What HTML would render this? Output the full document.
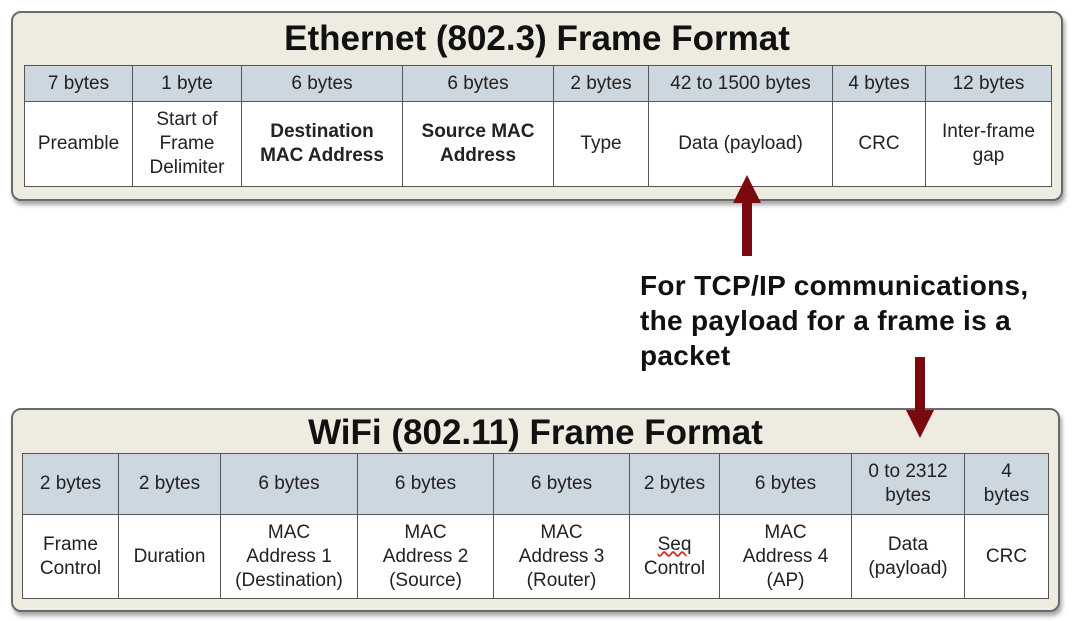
<!DOCTYPE html>
<html><head><meta charset="utf-8"><style>
body{margin:0;width:1077px;height:621px;background:#fff;position:relative;overflow:hidden;font-family:"Liberation Sans",Arial,sans-serif;}
.panel{position:absolute;background:#eeece1;border:2px solid #6a6a6a;border-radius:10px;box-shadow:2px 4px 4px rgba(0,0,0,0.35);}
.title{position:absolute;left:0;right:0;text-align:center;font-weight:bold;font-size:35px;color:#111;}
table{position:absolute;border-collapse:collapse;table-layout:fixed;}
td{border:1px solid #555;text-align:center;vertical-align:middle;font-size:19px;color:#222;line-height:24px;padding:0;}
tr.h td{background:#cdd7df;}
tr.b td{background:#fff;}
.bold{font-weight:bold;}
.note{position:absolute;left:640px;top:268px;font-weight:bold;font-size:28px;letter-spacing:0.3px;line-height:35px;color:#111;white-space:nowrap;}
</style></head><body>
<div class="panel" style="left:11px;top:11px;width:1048px;height:186px;">
<div class="title" style="top:6px;">Ethernet (802.3) Frame Format</div>
</div>
<table style="left:24px;top:65px;width:1027px;height:122px;">
<colgroup><col style="width:108px"><col style="width:109px"><col style="width:161px"><col style="width:151px"><col style="width:95px"><col style="width:184px"><col style="width:93px"><col style="width:126px"></colgroup>
<tr class="h" style="height:36px"><td>7 bytes</td><td>1 byte</td><td>6 bytes</td><td>6 bytes</td><td>2 bytes</td><td>42 to 1500 bytes</td><td>4 bytes</td><td>12 bytes</td></tr>
<tr class="b"><td>Preamble</td><td>Start of<br>Frame<br>Delimiter</td><td class="bold">Destination<br>MAC Address</td><td class="bold">Source MAC<br>Address</td><td>Type</td><td>Data (payload)</td><td>CRC</td><td>Inter-frame<br>gap</td></tr>
</table>

<div class="note">For TCP/IP communications,<br>the payload for a frame is a<br>packet</div>

<div class="panel" style="left:11px;top:408px;width:1045px;height:200px;">
<div class="title" style="top:3px;">WiFi (802.11) Frame Format</div>
</div>
<table style="left:22px;top:453px;width:1026px;height:146px;z-index:2">
<colgroup><col style="width:96px"><col style="width:102px"><col style="width:137px"><col style="width:136px"><col style="width:136px"><col style="width:90px"><col style="width:132px"><col style="width:113px"><col style="width:84px"></colgroup>
<tr class="h" style="height:61px"><td>2 bytes</td><td>2 bytes</td><td>6 bytes</td><td>6 bytes</td><td>6 bytes</td><td>2 bytes</td><td>6 bytes</td><td>0 to 2312<br>bytes</td><td>4<br>bytes</td></tr>
<tr class="b"><td>Frame<br>Control</td><td>Duration</td><td>MAC<br>Address 1<br>(Destination)</td><td>MAC<br>Address 2<br>(Source)</td><td>MAC<br>Address 3<br>(Router)</td><td><span style="text-decoration:underline wavy #c33;">Seq</span><br>Control</td><td>MAC<br>Address 4<br>(AP)</td><td>Data<br>(payload)</td><td>CRC</td></tr>
</table>

<svg style="position:absolute;left:0;top:0;z-index:5" width="1077" height="621">
<polygon points="747,175 733,203 761,203" fill="#7a0a0f"/>
<rect x="742" y="200" width="10" height="56" fill="#7a0a0f"/>
<rect x="915" y="357" width="10" height="54" fill="#7a0a0f"/>
<polygon points="920,438 906,410 934,410" fill="#7a0a0f"/>
</svg>
</body></html>
